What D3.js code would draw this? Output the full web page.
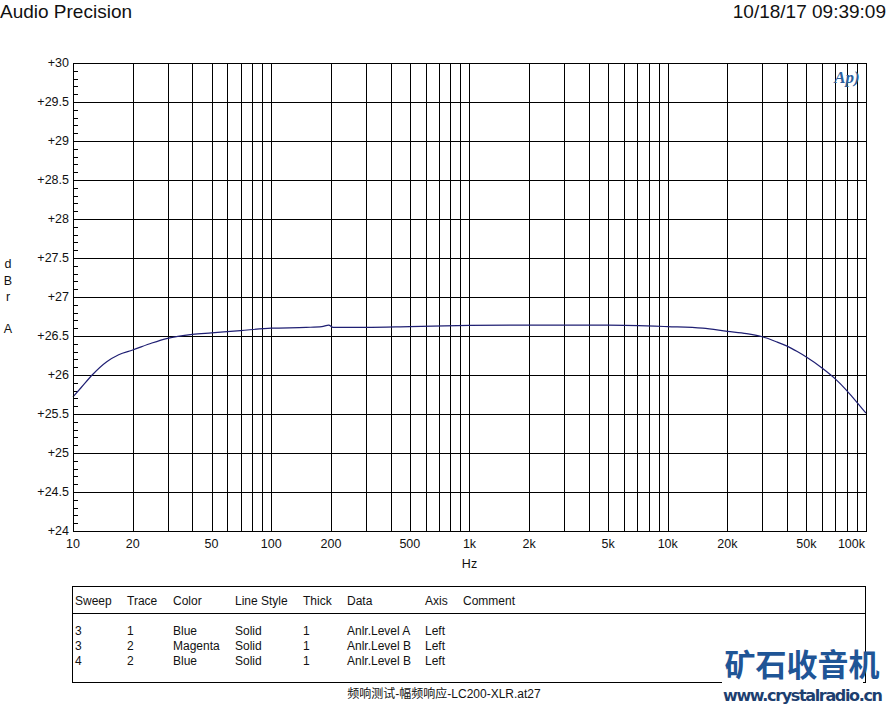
<!DOCTYPE html>
<html>
<head>
<meta charset="utf-8">
<script src="https://cdn.jsdelivr.net/npm/d3@7"></script>
<style>
body { margin: 0; background: #fff; }
svg { display: block; font-family: "Liberation Sans", Arial, sans-serif; }
</style>
</head>
<body>
<svg id="chart"></svg>
<script>
// frequency response, Hz vs dBr
var freqs = [10, 11, 12.6, 14.8, 17, 20, 25, 30, 40, 50, 70, 100, 150, 180, 195, 205, 300, 500,
             1000, 2000, 5000, 10000, 15000, 20000, 25000, 30000, 35000, 40000, 45000, 50000, 60000,
             70000, 80000, 90000, 100000];
var levels = [25.72, 25.84, 26.01, 26.17, 26.26, 26.32, 26.41, 26.47, 26.52, 26.54, 26.57, 26.60,
              26.61, 26.62, 26.64, 26.61, 26.61, 26.62, 26.635, 26.64, 26.64, 26.62, 26.60, 26.56,
              26.53, 26.49, 26.43, 26.37, 26.30, 26.23, 26.09, 25.95, 25.80, 25.65, 25.51];

var xLabels = [10, 20, 50, 100, 200, 500, 1000, 2000, 5000, 10000, 20000, 50000, 100000];
var yTicks = [24, 24.5, 25, 25.5, 26, 26.5, 27, 27.5, 28, 28.5, 29, 29.5, 30];

var legendCols = ["Sweep", "Trace", "Color", "Line Style", "Thick", "Data", "Axis", "Comment"];
var legendRows = [
    ["3", "1", "Blue", "Solid", "1", "Anlr.Level A", "Left", ""],
    ["3", "2", "Magenta", "Solid", "1", "Anlr.Level B", "Left", ""],
    ["4", "2", "Blue", "Solid", "1", "Anlr.Level B", "Left", ""]
];

function draw() {
    var width = 888, height = 707;
    var pLeft = 73, pRight = 866, pTop = 63, pBottom = 531;

    var svg = d3.select("#chart").attr("width", width).attr("height", height);

    var x = d3.scaleLog().domain([10, 100000]).range([pLeft, pRight]);
    var y = d3.scaleLinear().domain([24, 30]).range([pBottom, pTop]);

    function fmtHz(d) {
        return d >= 1000 ? (d / 1000) + "k" : "" + d;
    }
    function px(v) { return Math.round(v) + 0.5; }

    // header
    svg.append("text").attr("x", 0).attr("y", 18).attr("font-size", 19).attr("fill", "#111")
        .text("Audio Precision");
    svg.append("text").attr("x", 886).attr("y", 18).attr("font-size", 19).attr("fill", "#111")
        .attr("text-anchor", "end").text("10/18/17 09:39:09");

    // vertical grid, every 1..9 per decade
    var vGrid = [];
    for (var dec = 10; dec < 100000; dec *= 10) {
        for (var m = 2; m <= 9; m++) vGrid.push(dec * m);
        if (dec > 10) vGrid.push(dec);
    }

    var grid = svg.append("g").attr("stroke", "#000").attr("stroke-width", 1)
        .attr("shape-rendering", "crispEdges");
    grid.selectAll("line.v").data(vGrid).enter().append("line").attr("class", "v")
        .attr("x1", function(d) { return px(x(d)); })
        .attr("x2", function(d) { return px(x(d)); })
        .attr("y1", pTop).attr("y2", pBottom);
    grid.selectAll("line.h").data(yTicks).enter().append("line").attr("class", "h")
        .attr("x1", pLeft).attr("x2", pRight)
        .attr("y1", function(d) { return px(y(d)); })
        .attr("y2", function(d) { return px(y(d)); });

    // minor ticks on left axis
    var minor = d3.range(240, 301).map(function(d) { return d / 10; });
    grid.selectAll("line.m").data(minor).enter().append("line").attr("class", "m")
        .attr("x1", pLeft).attr("x2", pLeft + 5)
        .attr("y1", function(d) { return px(y(d)); })
        .attr("y2", function(d) { return px(y(d)); });

    // y labels
    svg.append("g").selectAll("text").data(yTicks).enter().append("text")
        .attr("x", pLeft - 4).attr("y", function(d) { return y(d) + 4; })
        .attr("text-anchor", "end").attr("font-size", 12.5).attr("fill", "#111")
        .text(function(d) { return "+" + d; });

    // x labels
    svg.append("g").selectAll("text").data(xLabels).enter().append("text")
        .attr("x", function(d) { return d === 100000 ? x(d) - 1 : x(d); })
        .attr("y", 548)
        .attr("text-anchor", function(d) { return d === 100000 ? "end" : "middle"; })
        .attr("font-size", 12.5).attr("fill", "#111")
        .text(fmtHz);
    svg.append("text").attr("x", x(1000)).attr("y", 568).attr("text-anchor", "middle")
        .attr("font-size", 12.5).attr("fill", "#111").text("Hz");

    // y unit letters
    var unit = [["d", 268], ["B", 285], ["r", 301], ["A", 333]];
    svg.append("g").selectAll("text").data(unit).enter().append("text")
        .attr("x", 8).attr("y", function(d) { return d[1]; }).attr("text-anchor", "middle")
        .attr("font-size", 12.5).attr("fill", "#111").text(function(d) { return d[0]; });

    // trace
    var line = d3.line()
        .x(function(d, i) { return x(freqs[i]); })
        .y(function(d) { return y(d); })
        .curve(d3.curveMonotoneX);
    svg.append("path").datum(levels).attr("d", line)
        .attr("fill", "none").attr("stroke", "#1f1f73").attr("stroke-width", 1.2);

    // frame
    svg.append("rect").attr("x", pLeft + 0.5).attr("y", pTop + 0.5)
        .attr("width", pRight - pLeft).attr("height", pBottom - pTop)
        .attr("fill", "none").attr("stroke", "#000").attr("shape-rendering", "crispEdges");

    // AP logo
    svg.append("text").attr("x", 847).attr("y", 83).attr("text-anchor", "middle")
        .attr("font-size", 17).attr("font-style", "italic").attr("font-weight", "bold")
        .attr("fill", "#2d5f9e").attr("font-family", "'Liberation Serif', serif").text("Ap)");

    // legend table
    var lg = svg.append("g");
    lg.append("rect").attr("x", 72.5).attr("y", 586.5).attr("width", 793).attr("height", 96)
        .attr("fill", "none").attr("stroke", "#000").attr("shape-rendering", "crispEdges");
    lg.append("line").attr("x1", 72).attr("x2", 866).attr("y1", 613.5).attr("y2", 613.5)
        .attr("stroke", "#000").attr("shape-rendering", "crispEdges");
    var colX = [75, 127, 173, 235, 303, 347, 425, 463];
    lg.selectAll("text.h").data(legendCols).enter().append("text").attr("class", "h")
        .attr("x", function(d, i) { return colX[i]; }).attr("y", 605)
        .attr("font-size", 12).attr("fill", "#111").text(function(d) { return d; });
    legendRows.forEach(function(row, r) {
        lg.selectAll("text.r" + r).data(row).enter().append("text").attr("class", "r" + r)
            .attr("x", function(d, i) { return colX[i]; }).attr("y", 635 + r * 15)
            .attr("font-size", 12).attr("fill", "#111").text(function(d) { return d; });
    });

    // caption
    svg.append("text").attr("x", 444).attr("y", 698).attr("text-anchor", "middle")
        .attr("font-size", 12).attr("fill", "#111")
        .attr("font-family", "'Liberation Sans', 'Noto Sans CJK SC', sans-serif")
        .text("频响测试-幅频响应-LC200-XLR.at27");

    // watermark
    svg.append("rect").attr("x", 722).attr("y", 644).attr("width", 141).attr("height", 63).attr("fill", "#fff");
    svg.append("text").attr("x", 802).attr("y", 676).attr("text-anchor", "middle")
        .attr("font-size", 31).attr("font-weight", "bold").attr("fill", "#1f5596")
        .attr("font-family", "'Noto Sans CJK SC', sans-serif")
        .text("矿石收音机");
    svg.append("text").attr("x", 803).attr("y", 701).attr("text-anchor", "middle")
        .attr("font-size", 16).attr("font-weight", "bold").attr("fill", "#1d3f70")
        .attr("font-family", "'DejaVu Sans', sans-serif").attr("textLength", 160)
        .text("www.crystalradio.cn");
}

draw();
</script>
</body>
</html>
